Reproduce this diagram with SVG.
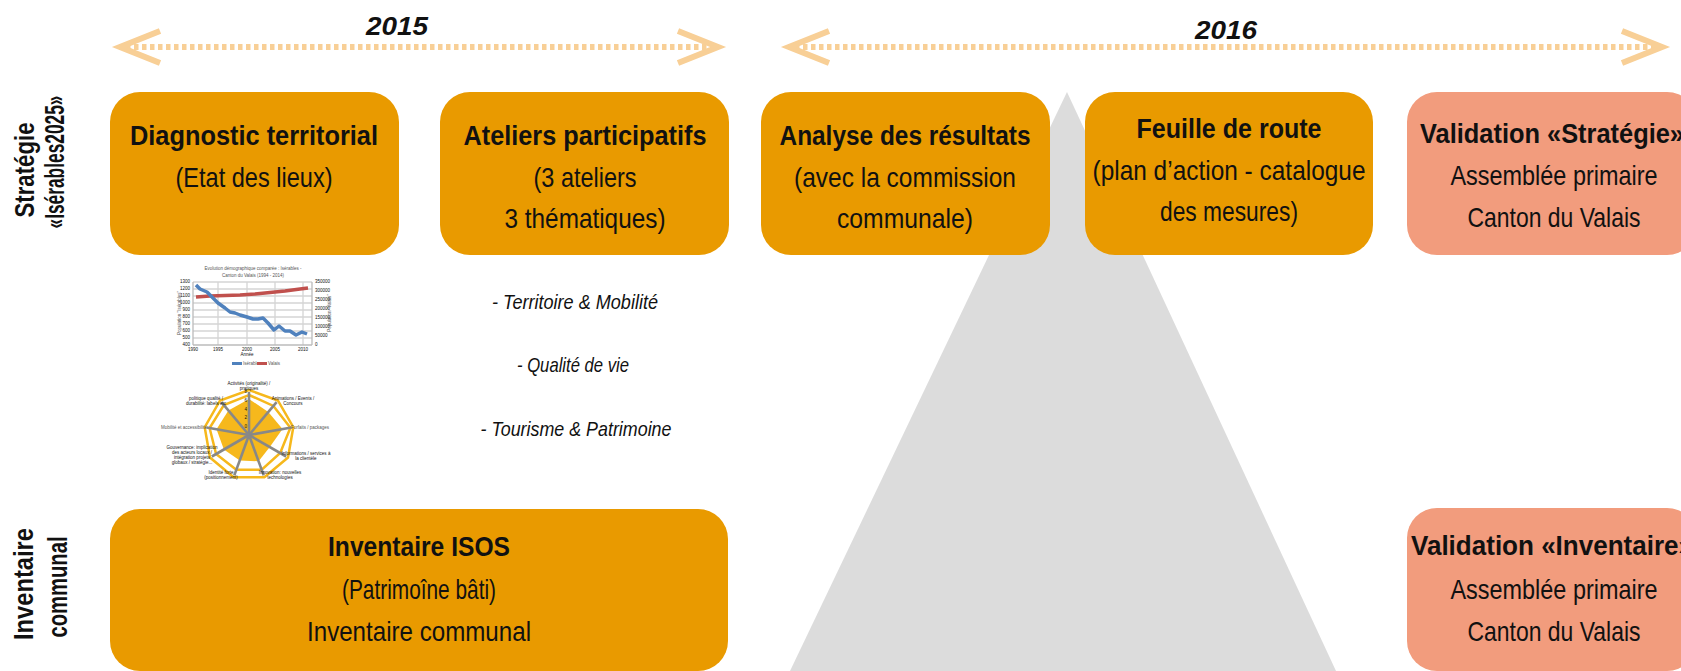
<svg xmlns="http://www.w3.org/2000/svg" width="1681" height="671" viewBox="0 0 1681 671">
<style>
text{font-family:"Liberation Sans Narrow","Liberation Sans",Arial,sans-serif;fill:#111}
.b{font-weight:bold;font-size:28px}
.r{font-size:28px}
.side{font-weight:bold;font-size:27px}
.yr{font-weight:bold;font-style:italic;font-size:26px}
.it{font-style:italic;font-size:21px}
.org{fill:#E99A00}
.sal{fill:#F29C7D}
.arr{fill:none;stroke:#F8CF96;stroke-width:6}
.dash{fill:none;stroke:#F8CF96;stroke-width:6;stroke-dasharray:4.5 3.5}
.tiny{font-family:"Liberation Sans",Arial,sans-serif;font-size:4.5px;fill:#555}
.grid{stroke:#d4d4d4;stroke-width:1.3}
</style>

<!-- background triangle -->
<polygon id="pyramid" points="1067,92 790,671 1336,671" fill="#DCDCDC"/>

<!-- timeline arrows -->
<g id="connectors">
  <line class="dash" x1="126" y1="47" x2="712" y2="47"/>
  <polyline class="arr" points="160,31 120,47 160,63"/>
  <polyline class="arr" points="678,31 718,47 678,63"/>
  <line class="dash" x1="795" y1="47" x2="1660" y2="47"/>
  <polyline class="arr" points="829,31 789,47 829,63"/>
  <polyline class="arr" points="1622,31 1662,47 1622,63"/>
</g>
<text class="yr" x="397" y="35" text-anchor="middle" textLength="62" lengthAdjust="spacingAndGlyphs">2015</text>
<text class="yr" x="1226" y="39" text-anchor="middle" textLength="62" lengthAdjust="spacingAndGlyphs">2016</text>

<!-- side labels -->
<g id="label-strategie">
  <text class="side" transform="translate(34,170) rotate(-90)" text-anchor="middle" textLength="95" lengthAdjust="spacingAndGlyphs">Stratégie</text>
  <text class="side" transform="translate(64,162) rotate(-90)" text-anchor="middle" textLength="133" lengthAdjust="spacingAndGlyphs">«Isérables2025»</text>
</g>
<g id="label-inventaire">
  <text class="side" transform="translate(33,584) rotate(-90)" text-anchor="middle" textLength="112" lengthAdjust="spacingAndGlyphs">Inventaire</text>
  <text class="side" transform="translate(67,587) rotate(-90)" text-anchor="middle" textLength="101" lengthAdjust="spacingAndGlyphs">communal</text>
</g>

<!-- boxes -->
<g id="diagnostic">
  <rect class="org" x="110" y="92" width="289" height="163" rx="30"/>
  <text class="b" x="254" y="145" text-anchor="middle" textLength="248" lengthAdjust="spacingAndGlyphs">Diagnostic territorial</text>
  <text class="r" x="254" y="187" text-anchor="middle" textLength="157" lengthAdjust="spacingAndGlyphs">(Etat des lieux)</text>
</g>
<g id="ateliers">
  <rect class="org" x="440" y="92" width="289" height="163" rx="30"/>
  <text class="b" x="585" y="145" text-anchor="middle" textLength="243" lengthAdjust="spacingAndGlyphs">Ateliers participatifs</text>
  <text class="r" x="585" y="187" text-anchor="middle" textLength="103" lengthAdjust="spacingAndGlyphs">(3 ateliers</text>
  <text class="r" x="585" y="228" text-anchor="middle" textLength="161" lengthAdjust="spacingAndGlyphs">3 thématiques)</text>
</g>
<g id="analyse">
  <rect class="org" x="761" y="92" width="289" height="163" rx="30"/>
  <text class="b" x="905" y="145" text-anchor="middle" textLength="251" lengthAdjust="spacingAndGlyphs">Analyse des résultats</text>
  <text class="r" x="905" y="187" text-anchor="middle" textLength="222" lengthAdjust="spacingAndGlyphs">(avec la commission</text>
  <text class="r" x="905" y="228" text-anchor="middle" textLength="136" lengthAdjust="spacingAndGlyphs">communale)</text>
</g>
<g id="feuille">
  <rect class="org" x="1085" y="92" width="288" height="163" rx="30"/>
  <text class="b" x="1229" y="138" text-anchor="middle" textLength="185" lengthAdjust="spacingAndGlyphs">Feuille de route</text>
  <text class="r" x="1229" y="180" text-anchor="middle" textLength="273" lengthAdjust="spacingAndGlyphs">(plan d’action - catalogue</text>
  <text class="r" x="1229" y="221" text-anchor="middle" textLength="138" lengthAdjust="spacingAndGlyphs">des mesures)</text>
</g>
<g id="validation-strategie">
  <rect class="sal" x="1407" y="92" width="290" height="163" rx="30"/>
  <text class="b" x="1552" y="143" text-anchor="middle" textLength="264" lengthAdjust="spacingAndGlyphs">Validation «Stratégie»</text>
  <text class="r" x="1554" y="185" text-anchor="middle" textLength="207" lengthAdjust="spacingAndGlyphs">Assemblée primaire</text>
  <text class="r" x="1554" y="227" text-anchor="middle" textLength="173" lengthAdjust="spacingAndGlyphs">Canton du Valais</text>
</g>
<g id="inventaire-isos">
  <rect class="org" x="110" y="509" width="618" height="162" rx="30"/>
  <text class="b" x="419" y="556" text-anchor="middle" textLength="182" lengthAdjust="spacingAndGlyphs">Inventaire ISOS</text>
  <text class="r" x="419" y="599" text-anchor="middle" textLength="154" lengthAdjust="spacingAndGlyphs">(Patrimoîne bâti)</text>
  <text class="r" x="419" y="641" text-anchor="middle" textLength="224" lengthAdjust="spacingAndGlyphs">Inventaire communal</text>
</g>
<g id="validation-inventaire">
  <rect class="sal" x="1407" y="508" width="290" height="163" rx="30"/>
  <text class="b" x="1552" y="555" text-anchor="middle" textLength="282" lengthAdjust="spacingAndGlyphs">Validation «Inventaire»</text>
  <text class="r" x="1554" y="599" text-anchor="middle" textLength="207" lengthAdjust="spacingAndGlyphs">Assemblée primaire</text>
  <text class="r" x="1554" y="641" text-anchor="middle" textLength="173" lengthAdjust="spacingAndGlyphs">Canton du Valais</text>
</g>

<!-- workshop themes -->
<g id="themes">
  <text class="it" x="575" y="309" text-anchor="middle" textLength="166" lengthAdjust="spacingAndGlyphs">- Territoire &amp; Mobilité</text>
  <text class="it" x="573" y="372" text-anchor="middle" textLength="112" lengthAdjust="spacingAndGlyphs">- Qualité de vie</text>
  <text class="it" x="576" y="436" text-anchor="middle" textLength="191" lengthAdjust="spacingAndGlyphs">- Tourisme &amp; Patrimoine</text>
</g>

<!-- line chart -->
<g id="line-chart">
  <text class="tiny" x="253" y="270" text-anchor="middle" font-size="5.5">Evolution démographique comparée : Isérables -</text>
  <text class="tiny" x="253" y="277" text-anchor="middle" font-size="5.5">Canton du Valais (1994 - 2014)</text>
  <g class="grid">
    <line x1="193" y1="282" x2="312" y2="282"/><line x1="193" y1="289" x2="312" y2="289"/>
    <line x1="193" y1="296" x2="312" y2="296"/><line x1="193" y1="303" x2="312" y2="303"/>
    <line x1="193" y1="310" x2="312" y2="310"/><line x1="193" y1="317" x2="312" y2="317"/>
    <line x1="193" y1="324" x2="312" y2="324"/><line x1="193" y1="331" x2="312" y2="331"/>
    <line x1="193" y1="338" x2="312" y2="338"/>
    <line x1="218" y1="282" x2="218" y2="345"/><line x1="247" y1="282" x2="247" y2="345"/>
    <line x1="275" y1="282" x2="275" y2="345"/><line x1="303" y1="282" x2="303" y2="345"/>
  </g>
  <line x1="193" y1="282" x2="193" y2="345" stroke="#bbb" stroke-width="1.3"/>
  <line x1="312" y1="282" x2="312" y2="345" stroke="#bbb" stroke-width="1.3"/>
  <line x1="193" y1="345" x2="312" y2="345" stroke="#bbb" stroke-width="1.3"/>
  <g class="tiny" font-size="3.5" text-anchor="end">
    <text x="190" y="283">1300</text><text x="190" y="290">1200</text><text x="190" y="297">1100</text>
    <text x="190" y="304">1000</text><text x="190" y="311">900</text><text x="190" y="318">800</text>
    <text x="190" y="325">700</text><text x="190" y="332">600</text><text x="190" y="339">500</text>
    <text x="190" y="346">400</text>
  </g>
  <g class="tiny" font-size="3.5">
    <text x="315" y="283">350000</text><text x="315" y="292">300000</text><text x="315" y="301">250000</text>
    <text x="315" y="310">200000</text><text x="315" y="319">150000</text><text x="315" y="328">100000</text>
    <text x="315" y="337">50000</text><text x="315" y="346">0</text>
  </g>
  <g class="tiny" font-size="3.5" text-anchor="middle">
    <text x="193" y="351">1990</text><text x="218" y="351">1995</text><text x="247" y="351">2000</text>
    <text x="275" y="351">2005</text><text x="303" y="351">2010</text>
    <text x="247" y="356">Année</text>
  </g>
  <text class="tiny" font-size="3.5" transform="translate(181,313) rotate(-90)" text-anchor="middle">Population "Isérables"</text>
  <text class="tiny" font-size="3.5" transform="translate(331,313) rotate(-90)" text-anchor="middle">Population "Valais"</text>
  <polyline fill="none" stroke="#C0504D" stroke-width="3.5" stroke-linejoin="round" points="196,297 210,296 225,295.5 240,295 255,294 270,292.5 285,291 300,289 308,288"/>
  <polyline fill="none" stroke="#4F81BD" stroke-width="3.5" stroke-linejoin="round" points="196,285 200,289 207,292 212,297 218,303 225,308 230,312 235,313 240,315 247,317 253,319 258,319 263,318 268,323 274,330 279,326 285,331 290,331 296,335 302,332 307,334"/>
  <rect x="232" y="362" width="10" height="3" fill="#4F81BD"/>
  <text class="tiny" font-size="3.5" x="243" y="365">Isérables</text>
  <rect x="257" y="362" width="10" height="3" fill="#C0504D"/>
  <text class="tiny" font-size="3.5" x="268" y="365">Valais</text>
</g>

<!-- radar chart -->
<g id="radar-chart">
  <polygon points="249,399 268.3,412 282.5,429.1 269.8,447 258.6,461.3 239.8,460.4 223.9,449.5 216.5,429.3 228.4,410.5" fill="#F6B81C"/>
  <polygon points="249,390 277.9,400.5 293.3,427.2 288,457.5 264.4,477.3 233.6,477.3 210,457.5 204.7,427.2 220.1,400.5" fill="none" stroke="#F6B81C" stroke-width="2.5"/>
  <polygon points="249,395 273.4,405.9 290.4,427.7 280.2,453 261.7,469.8 236.3,469.8 216.1,454 209.6,428 223.9,405.1" fill="none" stroke="#F6B81C" stroke-width="2.5"/>
  <g stroke="#888" stroke-width="2.6">
    <line x1="249" y1="435" x2="249" y2="392"/><line x1="249" y1="435" x2="276.6" y2="402.1"/>
    <line x1="249" y1="435" x2="291.4" y2="427.5"/><line x1="249" y1="435" x2="286.2" y2="456.5"/>
    <line x1="249" y1="435" x2="263.7" y2="475.4"/><line x1="249" y1="435" x2="234.3" y2="475.4"/>
    <line x1="249" y1="435" x2="211.8" y2="456.5"/><line x1="249" y1="435" x2="206.6" y2="427.5"/>
    <line x1="249" y1="435" x2="221.4" y2="402.1"/>
  </g>
  <g class="tiny" font-size="3.5" text-anchor="end">
    <text x="247" y="393">8</text><text x="247" y="402">6</text><text x="247" y="411">4</text>
    <text x="247" y="419">2</text><text x="247" y="428">0</text>
  </g>
  <g class="tiny" text-anchor="middle">
    <text x="249" y="385">Activités (originalité) /</text><text x="249" y="390">pratiques</text>
    <text x="293" y="400">Animations / Events /</text><text x="293" y="405">Concours</text>
    <text x="306" y="455">Informations / services à</text><text x="306" y="460">la clientèle</text>
    <text x="280" y="474">Innovation: nouvelles</text><text x="280" y="479">technologies</text>
    <text x="221" y="474">Identité forte</text><text x="221" y="479">(positionnement)</text>
    <text x="192" y="449">Gouvernance: implication</text><text x="192" y="454">des acteurs locaux /</text>
    <text x="192" y="459">intégration projets</text><text x="192" y="464">globaux / stratégie...</text>
    <text x="206" y="400">politique qualité /</text><text x="206" y="405">durabilité: labels etc</text>
  </g>
  <text class="tiny" x="291" y="429">Forfaits / packages</text>
  <text class="tiny" x="207" y="429" text-anchor="end">Mobilité et accessibilité</text>
</g>
</svg>
